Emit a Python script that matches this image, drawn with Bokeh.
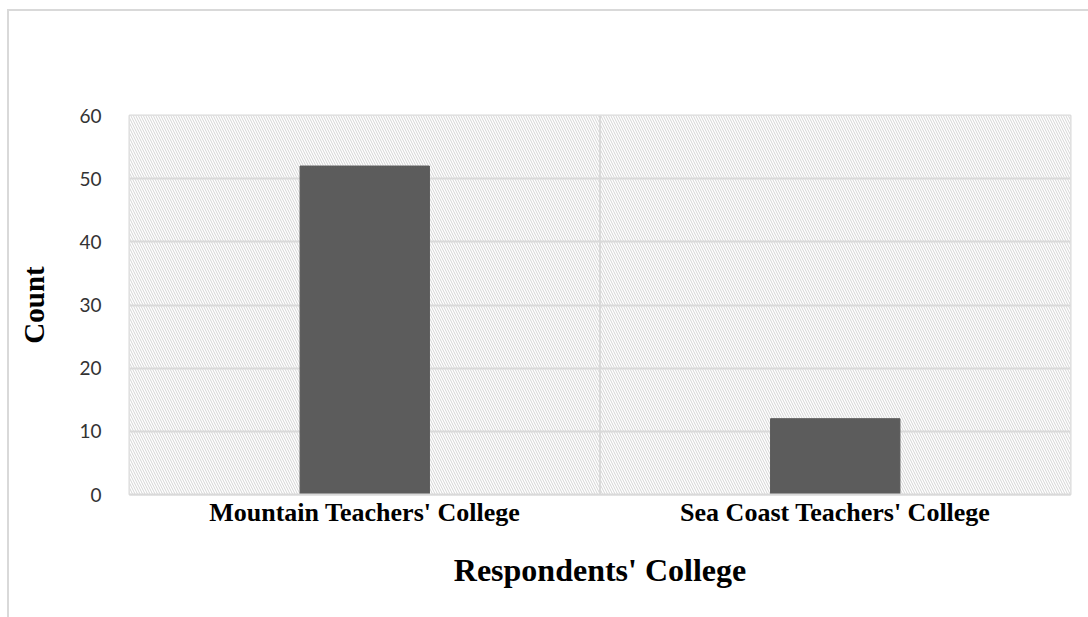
from bokeh.plotting import figure
from bokeh.models import FactorRange, BoxAnnotation, Span, FixedTicker
from bokeh.embed import file_html
from bokeh.resources import INLINE

colleges = ["Mountain Teachers' College", "Sea Coast Teachers' College"]
counts = [52, 12]
y_ticks = [0, 10, 20, 30, 40, 50, 60]

p = figure(
    x_range=FactorRange(*colleges, range_padding=0),
    y_range=(0, 60),
    width=1081, height=608,
    output_backend="svg", toolbar_location=None,
    min_border_left=120, min_border_right=20,
    min_border_top=104, min_border_bottom=125,
)
p.styles = {"margin-left": "7px", "margin-top": "9px",
            "border-left": "2px solid #d9d9d9", "border-top": "2px solid #d9d9d9"}

hatch = BoxAnnotation(fill_color="white", fill_alpha=1.0, line_color=None,
                      hatch_pattern="left_diagonal_line", hatch_color="#d4d4d4",
                      hatch_scale=5, hatch_weight=1, level="image")
p.add_layout(hatch)

p.vbar(x=colleges, top=counts, width=0.275, color="#5c5c5c")

p.add_layout(Span(location=1, dimension="height", line_color="#d9d9d9", line_width=2, level="underlay"))

p.xgrid.grid_line_color = None
p.ygrid.ticker = FixedTicker(ticks=y_ticks)
p.ygrid.grid_line_color = "#d9d9d9"
p.ygrid.grid_line_width = 2

p.outline_line_color = "#d9d9d9"
p.outline_line_width = 2

p.yaxis.ticker = FixedTicker(ticks=y_ticks)
p.yaxis.axis_line_color = None
p.yaxis.major_tick_line_color = None
p.yaxis.minor_tick_line_color = None
p.yaxis.major_label_text_font = "Lato"
p.yaxis.major_label_text_font_size = "19px"
p.yaxis.major_label_text_color = "#333333"
p.yaxis.major_label_standoff = 22
p.yaxis.axis_label = "Count"
p.yaxis.axis_label_text_font = "Liberation Serif"
p.yaxis.axis_label_text_font_style = "bold"
p.yaxis.axis_label_text_font_size = "29px"
p.yaxis.axis_label_text_color = "black"
p.yaxis.axis_label_standoff = 26

p.xaxis.axis_line_color = "#d9d9d9"
p.xaxis.axis_line_width = 2
p.xaxis.major_tick_line_color = None
p.xaxis.minor_tick_line_color = None
p.xaxis.major_label_text_font = "Liberation Serif"
p.xaxis.major_label_text_font_style = "bold"
p.xaxis.major_label_text_font_size = "26px"
p.xaxis.major_label_text_color = "black"
p.xaxis.major_label_standoff = -3
p.xaxis.axis_label = "Respondents' College"
p.xaxis.axis_label_text_font = "Liberation Serif"
p.xaxis.axis_label_text_font_style = "bold"
p.xaxis.axis_label_text_font_size = "32px"
p.xaxis.axis_label_text_color = "black"
p.xaxis.axis_label_standoff = 22

open("out.html", "w").write(file_html(p, INLINE))
